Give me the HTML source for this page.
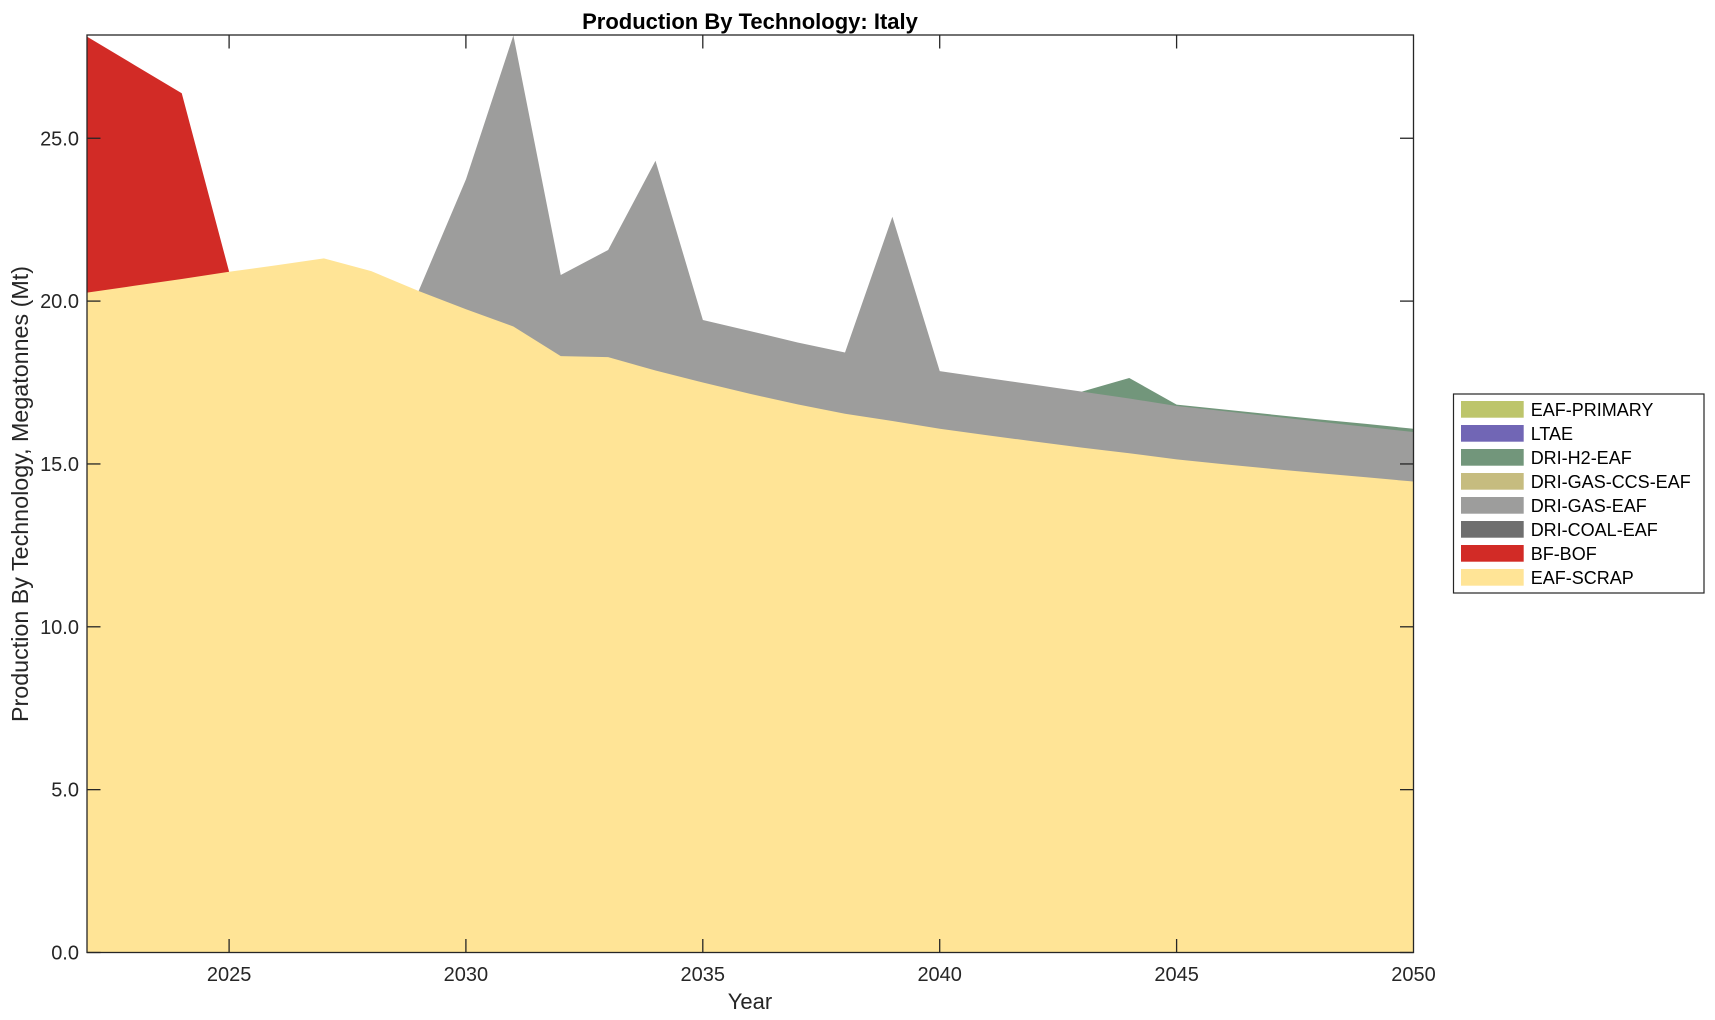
<!DOCTYPE html>
<html>
<head>
<meta charset="utf-8">
<style>
  html, body { margin: 0; padding: 0; background: #ffffff; }
  body { width: 1715px; height: 1020px; overflow: hidden; }
  svg { display: block; }
  text { font-family: "Liberation Sans", Arial, Helvetica, sans-serif; }
</style>
</head>
<body>
<svg width="1715" height="1020" viewBox="0 0 1715 1020" xmlns="http://www.w3.org/2000/svg">
  <rect x="0" y="0" width="1715" height="1020" fill="#ffffff"/>

  <!-- plot background -->
  <rect x="87" y="35" width="1326.5" height="917.5" fill="#ffffff"/>

  <!-- stacked areas (data coords: x = year-2022, y = value) -->
  <g transform="translate(87,952.5) scale(47.375,-32.57)">
    <!-- DRI-H2-EAF (green) -->
    <polygon fill="#72967B" points="21,0 21,17.22 22,17.64 23,16.82 24,16.67 25,16.52 26,16.37 27,16.23 28,16.08 28,0"/>
    <!-- DRI-GAS-EAF (gray) -->
    <polygon fill="#9D9D9C" points="7,0 7,20.31 8,23.74 9,28.16 10,20.80 11,21.57 12,24.31 13,19.42 14,19.08 15,18.73 16,18.42 17,22.59 18,17.85 19,17.64 20,17.43 21,17.22 22,17.01 23,16.78 24,16.62 25,16.46 26,16.30 27,16.14 28,15.98 28,0"/>
    <!-- BF-BOF (red) -->
    <polygon fill="#D22B26" points="0,0 0,28.12 1,27.25 2,26.38 3,20.90 3,0"/>
    <!-- EAF-SCRAP (yellow) -->
    <polygon fill="#FFE496" points="0,0 0,20.26 1,20.47 2,20.68 3,20.90 4,21.10 5,21.31 6,20.92 7,20.31 8,19.75 9,19.22 10,18.31 11,18.28 12,17.87 13,17.50 14,17.15 15,16.83 16,16.54 17,16.32 18,16.08 19,15.88 20,15.69 21,15.50 22,15.33 23,15.14 24,14.99 25,14.85 26,14.72 27,14.59 28,14.46 28,0"/>
  </g>

  <!-- axes box -->
  <rect x="87" y="35" width="1326.5" height="917.5" fill="none" stroke="#262626" stroke-width="1.3"/>

  <!-- ticks -->
  <g stroke="#262626" stroke-width="1.3">
    <line x1="87" y1="952.5" x2="100.5" y2="952.5"/>
    <line x1="87" y1="789.65" x2="100.5" y2="789.65"/>
    <line x1="87" y1="626.8" x2="100.5" y2="626.8"/>
    <line x1="87" y1="463.95" x2="100.5" y2="463.95"/>
    <line x1="87" y1="301.1" x2="100.5" y2="301.1"/>
    <line x1="87" y1="138.25" x2="100.5" y2="138.25"/>
    <line x1="1413.5" y1="952.5" x2="1400" y2="952.5"/>
    <line x1="1413.5" y1="789.65" x2="1400" y2="789.65"/>
    <line x1="1413.5" y1="626.8" x2="1400" y2="626.8"/>
    <line x1="1413.5" y1="463.95" x2="1400" y2="463.95"/>
    <line x1="1413.5" y1="301.1" x2="1400" y2="301.1"/>
    <line x1="1413.5" y1="138.25" x2="1400" y2="138.25"/>
    <line x1="229.1" y1="952.5" x2="229.1" y2="939"/>
    <line x1="465.9" y1="952.5" x2="465.9" y2="939"/>
    <line x1="702.8" y1="952.5" x2="702.8" y2="939"/>
    <line x1="939.7" y1="952.5" x2="939.7" y2="939"/>
    <line x1="1176.6" y1="952.5" x2="1176.6" y2="939"/>
    <line x1="229.1" y1="35" x2="229.1" y2="48.5"/>
    <line x1="465.9" y1="35" x2="465.9" y2="48.5"/>
    <line x1="702.8" y1="35" x2="702.8" y2="48.5"/>
    <line x1="939.7" y1="35" x2="939.7" y2="48.5"/>
    <line x1="1176.6" y1="35" x2="1176.6" y2="48.5"/>
  </g>

  <!-- y tick labels -->
  <g font-size="20" fill="#262626" text-anchor="end">
    <text x="79" y="959.5">0.0</text>
    <text x="79" y="796.6">5.0</text>
    <text x="79" y="633.8">10.0</text>
    <text x="79" y="471">15.0</text>
    <text x="79" y="308.1">20.0</text>
    <text x="79" y="145.3">25.0</text>
  </g>

  <!-- x tick labels -->
  <g font-size="20" fill="#262626" text-anchor="middle">
    <text x="229.1" y="981">2025</text>
    <text x="465.9" y="981">2030</text>
    <text x="702.8" y="981">2035</text>
    <text x="939.7" y="981">2040</text>
    <text x="1176.6" y="981">2045</text>
    <text x="1413.5" y="981">2050</text>
  </g>

  <!-- title -->
  <text x="750" y="29" font-size="22" font-weight="bold" fill="#000000" text-anchor="middle">Production By Technology: Italy</text>

  <!-- axis labels -->
  <text x="750" y="1009" font-size="22" fill="#262626" text-anchor="middle">Year</text>
  <text transform="translate(28,494) rotate(-90)" x="-228" y="0" font-size="23" fill="#262626" textLength="456" lengthAdjust="spacingAndGlyphs">Production By Technology, Megatonnes (Mt)</text>

  <!-- legend -->
  <rect x="1453.5" y="394" width="250.5" height="199" fill="#ffffff" stroke="#262626" stroke-width="1.2"/>
  <g>
    <rect x="1461" y="401" width="62.7" height="16.7" fill="#BDC56B"/>
    <rect x="1461" y="425" width="62.7" height="16.7" fill="#7166B5"/>
    <rect x="1461" y="449" width="62.7" height="16.7" fill="#72967B"/>
    <rect x="1461" y="473" width="62.7" height="16.7" fill="#C6BC7F"/>
    <rect x="1461" y="497" width="62.7" height="16.7" fill="#9D9D9C"/>
    <rect x="1461" y="521" width="62.7" height="16.7" fill="#6F6F6F"/>
    <rect x="1461" y="545" width="62.7" height="16.7" fill="#D22B26"/>
    <rect x="1461" y="569" width="62.7" height="16.7" fill="#FFE496"/>
  </g>
  <g font-size="18" fill="#000000">
    <text x="1530.7" y="415.8">EAF-PRIMARY</text>
    <text x="1530.7" y="439.8">LTAE</text>
    <text x="1530.7" y="463.8">DRI-H2-EAF</text>
    <text x="1530.7" y="487.8">DRI-GAS-CCS-EAF</text>
    <text x="1530.7" y="511.8">DRI-GAS-EAF</text>
    <text x="1530.7" y="535.8">DRI-COAL-EAF</text>
    <text x="1530.7" y="559.8">BF-BOF</text>
    <text x="1530.7" y="583.8">EAF-SCRAP</text>
  </g>
</svg>
</body>
</html>
